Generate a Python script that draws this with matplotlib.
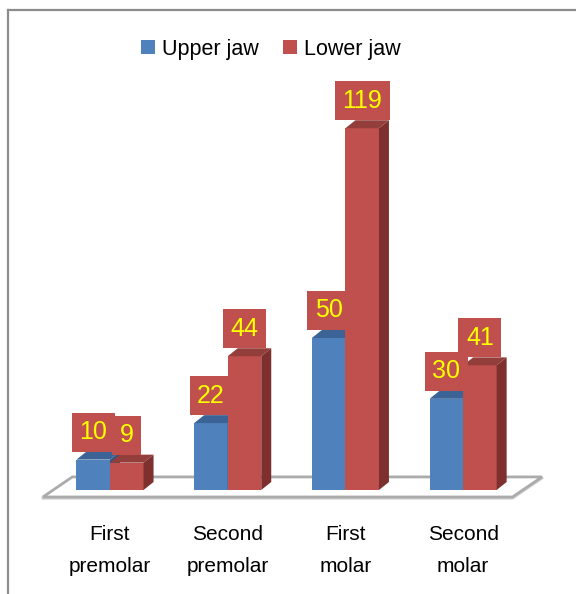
import numpy as np
import matplotlib
matplotlib.use('Agg')
from matplotlib import pyplot as plt
from matplotlib import font_manager as fm
from matplotlib.patches import Patch, Polygon
from matplotlib.lines import Line2D

categories = ['First\npremolar', 'Second\npremolar', 'First\nmolar', 'Second\nmolar']
upper_jaw = [10, 22, 50, 30]
lower_jaw = [9, 44, 119, 41]
series_names = ['Upper jaw', 'Lower jaw']

# font: narrow sans if there is one, otherwise plain Liberation Sans
names = {f.name for f in fm.fontManager.ttflist}
if 'Liberation Sans Narrow' in names:
    fam, k = 'Liberation Sans Narrow', 1.15
else:
    fam, k = 'Liberation Sans', 1.0
plt.rcParams['font.family'] = [fam, 'DejaVu Sans']

blue, blue_top = '#4F81BD', '#3B6396'
red, red_top, red_side = '#C0504D', '#943E3B', '#7D302E'

fig = plt.figure(figsize = (5.76, 5.94), dpi = 100)
W, H = 576, 594
# pixel anchors: group 0 centre at x=110, one group = 117.7 px; value 0 at y=490, 3.04 px per unit
x0px, xstep, y0px, ystep = 110, 117.7, 490, 3.04
xlim = (-0.8, 3.9)
ylim = (-5, 125)
left = (x0px + xlim[0] * xstep) / W
right = (x0px + xlim[1] * xstep) / W
bottom = (H - (y0px - ylim[0] * ystep)) / H
top = (H - (y0px - ylim[1] * ystep)) / H
ax = fig.add_axes([left, bottom, right - left, top - bottom])
ax.set_xlim(*xlim)
ax.set_ylim(*ylim)
for s in ax.spines.values():
    s.set_visible(False)
ax.set_yticks([])

x = np.arange(len(categories))
width = 0.285
ddx, ddy = 10 / xstep, 8 / ystep   # bar depth

# floor
floor = Polygon([(-0.57, -2.3), (3.42, -2.3), (3.67, 4.3), (-0.32, 4.3)], closed = True,
                facecolor = 'white', edgecolor = '#ABABAB', lw = 2, zorder = 1)
ax.add_patch(floor)
ax.plot([-0.57, 3.42, 3.67], [-2.7, -2.7, 3.9], color = '#D0D0D0', lw = 2, zorder = 0.9)

for i in range(len(categories)):
    for j, (vals, fc, tc) in enumerate([(upper_jaw, blue, blue_top), (lower_jaw, red, red_top)]):
        v = vals[i]
        xl = x[i] - width + j * width
        xr = xl + width
        z = 2 + i * 2 + j * 0.5
        ax.bar(xl, v, width, align = 'edge', color = fc, zorder = z)
        ax.add_patch(Polygon([(xl, v), (xr, v), (xr + ddx, v + ddy), (xl + ddx, v + ddy)],
                             facecolor = tc, edgecolor = 'none', zorder = z))
        ax.add_patch(Polygon([(xr, 0), (xr + ddx, ddy), (xr + ddx, v + ddy), (xr, v)],
                             facecolor = red_side if j == 1 else '#34557E', edgecolor = 'none', zorder = z))

# data labels
pad = 0.3
fs_lab = 18 * k
for i in range(len(categories)):
    for j, vals in enumerate([upper_jaw, lower_jaw]):
        v = vals[i]
        xc = x[i] - width / 2 + j * width
        ax.annotate(str(v), (xc, v + ddy), xytext = (0, pad * fs_lab), textcoords = 'offset points',
                    ha = 'center', va = 'bottom', color = '#FFFF00', fontsize = fs_lab,
                    bbox = dict(boxstyle = 'square,pad=%g' % pad, fc = red, ec = 'none'),
                    zorder = 50, annotation_clip = False)

ax.set_xticks(x, categories, fontsize = 15 * k, linespacing = 1.9)
ax.tick_params(axis = 'x', length = 0, pad = 14)

handles = [Patch(facecolor = blue), Patch(facecolor = red)]
fig.legend(handles, series_names, loc = 'center', bbox_to_anchor = (271 / W, 1 - 49 / H), ncol = 2,
           frameon = False, fontsize = 15.5 * k, handlelength = 0.65, handleheight = 0.65,
           handletextpad = 0.35, columnspacing = 1.1)

# chart border (left and top only visible)
fig.add_artist(Line2D([7.5 / W, 7.5 / W], [0, 1 - 9.5 / H], color = '#8C8C8C', lw = 1.6))
fig.add_artist(Line2D([7.5 / W, 1], [1 - 9.5 / H, 1 - 9.5 / H], color = '#8C8C8C', lw = 1.6))

fig.savefig('out.png', dpi = 100)
